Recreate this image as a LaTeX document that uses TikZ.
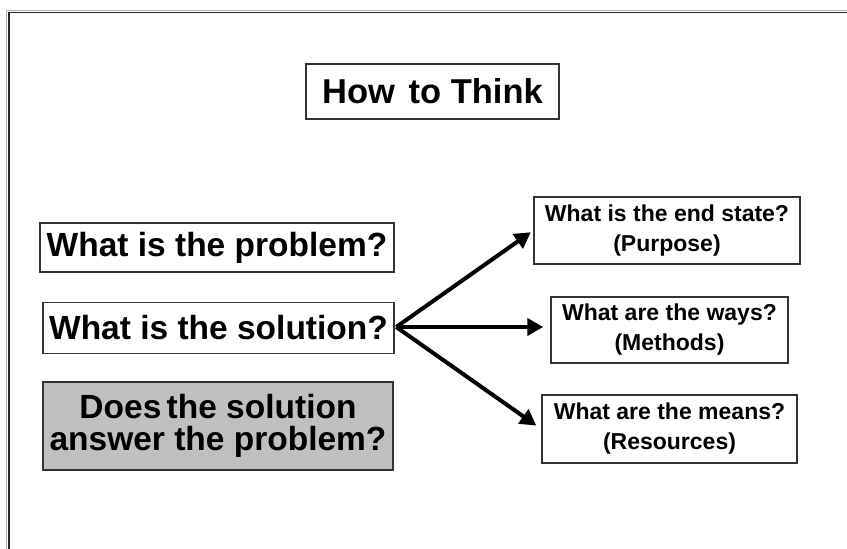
\documentclass[tikz,border=0pt]{standalone}
\usepackage{fontspec}
\setmainfont{Liberation Sans}
\usetikzlibrary{arrows.meta}
\definecolor{boxgray}{HTML}{C0C0C0}
\definecolor{edge}{HTML}{333333}
\tikzset{
  qbox/.style={draw=edge, line width=1.5pt, fill=white, inner sep=0pt, align=center, font=\bfseries},
  bigq/.style={qbox, font=\fontsize{33.5}{33}\selectfont\bfseries},
  smallq/.style={qbox, font=\fontsize{23}{30}\selectfont\bfseries},
  link/.style={line width=4pt, -{Triangle[length=16pt,width=17pt]}},
}
\begin{document}
\begin{tikzpicture}[x=1pt,y=-1pt]
\useasboundingbox (0,0) rectangle (847,549);
\fill[white] (0,0) rectangle (847,549);
% frame
\draw[gray!60, line width=1.4pt] (847,10.2) -- (6.6,10.2) -- (6.6,549);
\draw[black!85, line width=1.4pt] (847,12.4) -- (8.8,12.4) -- (8.8,549);
% title
\node[qbox, minimum width=253pt, minimum height=55pt, font=\fontsize{34.5}{34}\selectfont\bfseries] (title) at (432.5,91.5) {How\hspace{0.12em} to Think};
% left column
\node[bigq, minimum width=354pt, minimum height=49pt] (prob) at (217,247.5) {What is the problem?};
\node[bigq, minimum width=351pt, minimum height=51pt] (sol) at (218.5,328) {What is the solution?};
\node[bigq, fill=boxgray, minimum width=350pt, minimum height=88pt, font=\fontsize{33.5}{32}\selectfont\bfseries] (ans) at (218,426) {Does\hspace{-0.12em} the solution\\answer the problem?};
% right column
\node[smallq, minimum width=266pt, minimum height=67pt] (endst) at (667,230.5) {What is the end state?\\(Purpose)};
\node[smallq, minimum width=237pt, minimum height=66pt] (ways) at (669.5,330) {What are the ways?\\(Methods)};
\node[smallq, minimum width=255pt, minimum height=68pt] (means) at (669.5,429) {What are the means?\\(Resources)};
% arrows
\coordinate (o) at ([xshift=1.5pt,yshift=1pt]sol.east);
\draw[link, shorten >=3pt] (o) -- (endst.west);
\draw[link, shorten >=7pt] (o) -- (o -| ways.west);
\draw[link, shorten >=6pt] (o) -- (means.west);
\end{tikzpicture}
\end{document}
